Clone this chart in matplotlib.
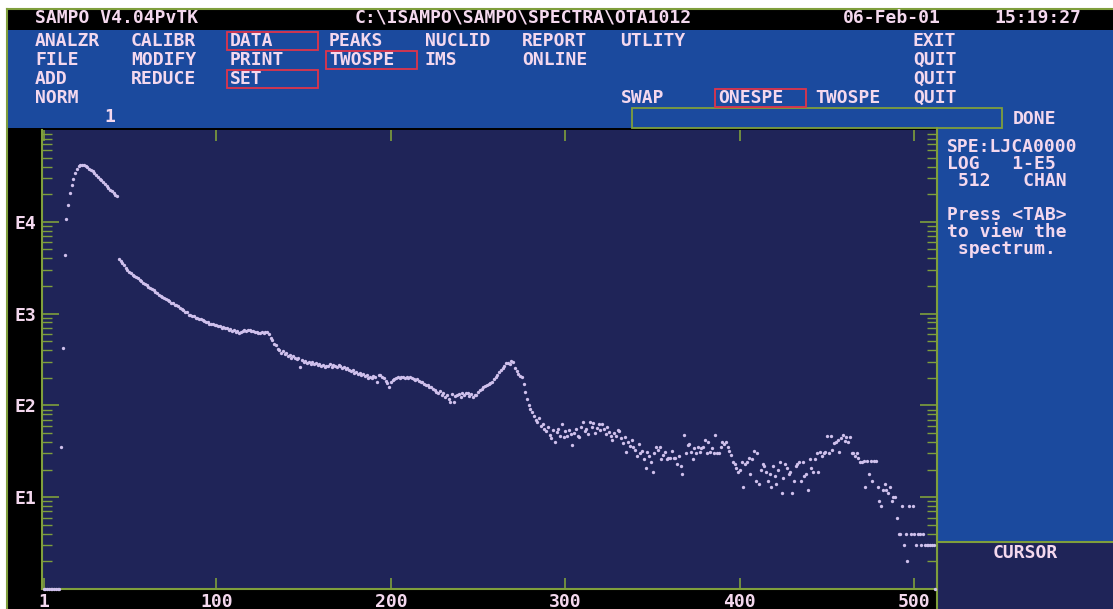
import matplotlib.pyplot as plt
import numpy as np
from matplotlib.patches import Rectangle
from matplotlib.ticker import LogLocator, NullLocator, FixedLocator

plt.rcParams['font.family'] = ['DejaVu Sans Mono', 'DejaVu Sans']
plt.rcParams['font.weight'] = 'bold'

# spectrum: counts per channel, 512 channels
channels = np.arange(1, 513)
counts = [
    1, 1, 1, 1, 1, 1, 1, 1, 1, 1, 35, 420, 4400, 10700, 15100, 20400,
    25000, 29500, 33900, 38000, 40700, 41700, 41900, 41600, 40700, 39800, 38000, 37100, 35500, 33900, 32400, 30900,
    29500, 28200, 26900, 25700, 24500, 23400, 22400, 21400, 20400, 19500, 19000, 3980, 3780, 3540, 3370, 3150,
    3010, 2820, 2760, 2640, 2590, 2490, 2430, 2340, 2270, 2180, 2110, 2050, 1960, 1910, 1840, 1800,
    1730, 1690, 1610, 1570, 1530, 1470, 1450, 1390, 1370, 1320, 1310, 1250, 1230, 1200, 1140, 1130,
    1090, 1040, 1030, 975, 960, 930, 935, 900, 905, 870, 870, 845, 840, 810, 810, 780,
    770, 765, 745, 750, 725, 730, 705, 715, 690, 700, 670, 685, 650, 660, 630, 640,
    610, 635, 640, 655, 650, 665, 660, 645, 645, 630, 630, 620, 612, 625, 620, 632,
    625, 600, 545, 515, 470, 455, 410, 400, 370, 395, 360, 372, 345, 352, 330, 342,
    332, 318, 325, 265, 312, 300, 308, 292, 300, 285, 296, 282, 290, 275, 285, 272,
    278, 265, 272, 268, 280, 262, 274, 270, 262, 276, 268, 258, 262, 250, 256, 244,
    238, 242, 228, 234, 220, 228, 214, 222, 210, 216, 200, 206, 198, 210, 204, 178,
    212, 214, 205, 198, 185, 174, 158, 180, 190, 196, 198, 204, 200, 206, 202, 198,
    205, 198, 203, 200, 196, 190, 193, 184, 178, 180, 170, 166, 168, 158, 160, 150,
    148, 141, 136, 142, 130, 136, 124, 129, 118, 108, 132, 110, 126, 129, 134, 124,
    136, 130, 135, 138, 128, 134, 124, 130, 129, 140, 148, 152, 158, 162, 166, 170,
    174, 182, 192, 204, 214, 229, 240, 255, 272, 288, 292, 280, 302, 296, 258, 236,
    222, 210, 204, 170, 141, 118, 100, 92, 85, 76, 69, 66, 72, 60, 62, 55,
    52, 58, 48, 44, 54, 40, 51, 56, 47, 62, 45, 52, 46, 54, 49, 37,
    50, 56, 47, 45, 58, 66, 52, 56, 49, 66, 58, 64, 50, 57, 62, 54,
    62, 56, 49, 58, 51, 47, 42, 50, 46, 54, 52, 44, 39, 45, 31, 40,
    36, 42, 35, 33, 28, 38, 30, 32, 26, 21, 31, 28, 24, 19, 30, 35,
    33, 35, 26, 29, 31, 26, 27, 27, 32, 27, 27, 23, 28, 22, 18, 48,
    30, 37, 38, 31, 26, 34, 30, 35, 31, 34, 35, 42, 30, 40, 31, 34,
    30, 48, 30, 30, 35, 40, 38, 40, 35, 32, 29, 24, 23, 21, 19, 20,
    24, 13, 23, 24, 27, 18, 26, 32, 15, 30, 14, 20, 23, 22, 19, 15,
    18, 13, 22, 17, 14, 20, 24, 11, 16, 23, 21, 18, 19, 11, 15, 22,
    23, 24, 15, 24, 17, 18, 12, 26, 21, 19, 26, 30, 19, 31, 28, 30,
    31, 46, 30, 46, 33, 39, 40, 42, 31, 44, 48, 41, 45, 40, 45, 30,
    30, 28, 30, 27, 24, 24, 25, 13, 25, 18, 25, 15, 25, 25, 13, 9,
    8, 12, 14, 12, 11, 13, 9, 10, 10, 6, 4, 4, 8, 3, 4, 2,
    8, 4, 8, 4, 3, 4, 4, 3, 4, 3, 3, 3, 3, 3, 3, 1,
]

x_ticks = [1, 100, 200, 300, 400, 500]
x_labels = ['1', '100', '200', '300', '400', '500']
y_ticks = [10, 100, 1000, 10000]
y_labels = ['E1', 'E2', 'E3', 'E4']

title_items = ['SAMPO V4.04PvTK', 'C:\\ISAMPO\\SAMPO\\SPECTRA\\OTA1012', '06-Feb-01', '15:19:27']
menu_rows = [
    ['ANALZR', 'CALIBR', 'DATA', 'PEAKS', 'NUCLID', 'REPORT', 'UTLITY', 'EXIT'],
    ['FILE', 'MODIFY', 'PRINT', 'TWOSPE', 'IMS', 'ONLINE', 'QUIT'],
    ['ADD', 'REDUCE', 'SET', 'QUIT'],
    ['NORM', 'SWAP', 'ONESPE', 'TWOSPE', 'QUIT'],
]
selected = ['DATA', 'TWOSPE', 'SET', 'ONESPE']
info_lines = ['SPE:LJCA0000', 'LOG   1-E5', ' 512   CHAN', '', 'Press <TAB>', 'to view the', ' spectrum.']

TXT = '#f4d8ee'
MENU_BLUE = '#1b4a9e'
PLOT_BG = '#1f2458'
GREEN = '#7f9f3c'
RED = '#e0344a'
DOT = '#cfc0ec'
FS = 13

W, H = 1113, 609
fig = plt.figure(figsize=(W / 100, H / 100), dpi=100, facecolor='white')

# screen frame, menu and side panels in pixel coordinates
scr = fig.add_axes([0, 0, 1, 1])
scr.set_xlim(0, W)
scr.set_ylim(H, 0)
scr.axis('off')

scr.add_patch(Rectangle((7, 9), W - 7, H - 9, fc='black', ec='none'))
scr.plot([7, W], [9, 9], color=GREEN, lw=1.5)
scr.plot([7, 7], [9, H], color=GREEN, lw=1.5)
scr.add_patch(Rectangle((8, 30), W - 8, 98, fc=MENU_BLUE, ec='none'))
scr.add_patch(Rectangle((938, 128), W - 938, 414, fc=MENU_BLUE, ec='none'))
scr.add_patch(Rectangle((938, 543), W - 938, H - 543, fc=PLOT_BG, ec='none'))
scr.plot([937, W], [542, 542], color=GREEN, lw=1.5)
scr.plot([937, 937], [128, H], color=GREEN, lw=1.5)
scr.add_patch(Rectangle((632, 108), 370, 20, fc='none', ec=GREEN, lw=1.3))

# title bar
for s, x in zip(title_items, [35, 355, 843, 994]):
    scr.text(x, 18, s, color=TXT, fontsize=FS, va='center', ha='left')

# menu columns
menu_x = {
    0: [35, 131, 230, 329, 425, 522, 620, 913],
    1: [35, 131, 230, 329, 425, 522, 913],
    2: [35, 131, 230, 913],
    3: [35, 621, 718, 815, 913],
}
for r, row in enumerate(menu_rows):
    y = 41 + r * 19
    for s, x in zip(row, menu_x[r]):
        scr.text(x, y, s, color=TXT, fontsize=FS, va='center', ha='left')
        if s in selected and (s != 'TWOSPE' or r == 1):
            scr.add_patch(Rectangle((x - 3, y - 9), 91, 18, fc='none', ec=RED, lw=1.3))
scr.text(110, 117, '1', color=TXT, fontsize=FS, va='center', ha='center')
scr.text(1013, 119, 'DONE', color=TXT, fontsize=FS, va='center', ha='left')

for i, s in enumerate(info_lines):
    scr.text(947, 147 + i * 17, s, color=TXT, fontsize=FS, va='center', ha='left')
scr.text(1025, 553, 'CURSOR', color=TXT, fontsize=FS, va='center', ha='center')

# spectrum plot
ax = fig.add_axes([42 / W, (H - 589) / H, (937 - 42) / W, (589 - 130) / H], facecolor=PLOT_BG)
ax.plot(channels, counts, ls='none', marker='o', ms=2.4, mew=0, color=DOT, clip_on=False, zorder=5)
ax.set_yscale('log')
ax.set_xlim(0, 513)
ax.set_ylim(1, 1e5)

ax.xaxis.set_major_locator(FixedLocator(x_ticks))
ax.set_xticklabels(x_labels)
ax.xaxis.set_minor_locator(NullLocator())
ax.yaxis.set_major_locator(FixedLocator(y_ticks))
ax.set_yticklabels(y_labels)
ax.yaxis.set_minor_locator(LogLocator(base=10, subs=np.arange(2, 10)))

ax.tick_params(axis='x', which='both', direction='in', top=True, bottom=True,
               length=8, width=1.2, color=GREEN, labelcolor=TXT, labelsize=FS, pad=3)
ax.tick_params(axis='y', which='major', direction='in', left=True, right=True,
               length=12, width=1.2, color=GREEN, labelcolor=TXT, labelsize=FS, pad=4)
ax.tick_params(axis='y', which='minor', direction='in', left=True, right=True,
               length=7, width=1.0, color=GREEN)
for side in ['left', 'bottom', 'right']:
    ax.spines[side].set_color(GREEN)
    ax.spines[side].set_linewidth(1.5)
ax.spines['top'].set_visible(False)

fig.savefig('out.png', dpi=100, facecolor='white')
